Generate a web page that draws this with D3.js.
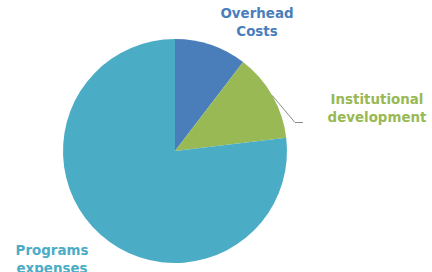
<!DOCTYPE html>
<html>
<head>
<meta charset="utf-8">
<script src="https://cdn.jsdelivr.net/npm/d3@7"></script>
<style>
  body { margin: 0; background: #fff; }
</style>
</head>
<body>
<div id="chart"></div>
<script>
// budget shares (percent)
var categories = ["Overhead Costs", "Institutional development", "Programs expenses"];
var values = [10.4, 12.7, 76.9];
var colors = ["#4a7ebb", "#98b954", "#4bacc6"];
var labelLines = [["Overhead", "Costs"], ["Institutional", "development"], ["Programs", "expenses"]];

var width = 432, height = 272;
var cx = 175, cy = 151, radius = 112;

var svg = d3.select("#chart")
    .append("svg")
    .attr("width", width)
    .attr("height", height);

var g = svg.append("g")
    .attr("transform", "translate(" + cx + "," + cy + ")");

var pie = d3.pie().sort(null).value(function (d) { return d; });
var arcs = pie(values);

var arc = d3.arc().innerRadius(0).outerRadius(radius);

g.selectAll("path")
    .data(arcs)
    .enter()
    .append("path")
    .attr("d", arc)
    .attr("fill", function (d, i) { return colors[i]; });

// label anchor points (x centre, first baseline)
var labelPos = [[257, 18], [377, 104], [52, 255]];

var labels = svg.append("g")
    .attr("font-family", "DejaVu Sans, Verdana, sans-serif")
    .attr("font-weight", "bold")
    .attr("font-size", 13.4)
    .attr("text-anchor", "middle");

labels.selectAll("text")
    .data(categories)
    .enter()
    .append("text")
    .attr("fill", function (d, i) { return colors[i]; })
    .attr("x", function (d, i) { return labelPos[i][0]; })
    .attr("y", function (d, i) { return labelPos[i][1]; })
    .each(function (d, i) {
        var t = d3.select(this);
        labelLines[i].forEach(function (line, j) {
            t.append("tspan")
                .attr("x", labelPos[i][0])
                .attr("dy", j === 0 ? 0 : 17.5)
                .text(line);
        });
    });

// leader line for the green slice, from its outer edge
var mid = (arcs[1].startAngle + arcs[1].endAngle) / 2;
var p0 = [Math.sin(mid) * radius, -Math.cos(mid) * radius];
g.append("polyline")
    .attr("points", [p0, [295 - cx, 122.5 - cy], [303 - cx, 122.5 - cy]].map(function (p) { return p.join(","); }).join(" "))
    .attr("fill", "none")
    .attr("stroke", "#8c8c8c")
    .attr("stroke-width", 1);
</script>
</body>
</html>
